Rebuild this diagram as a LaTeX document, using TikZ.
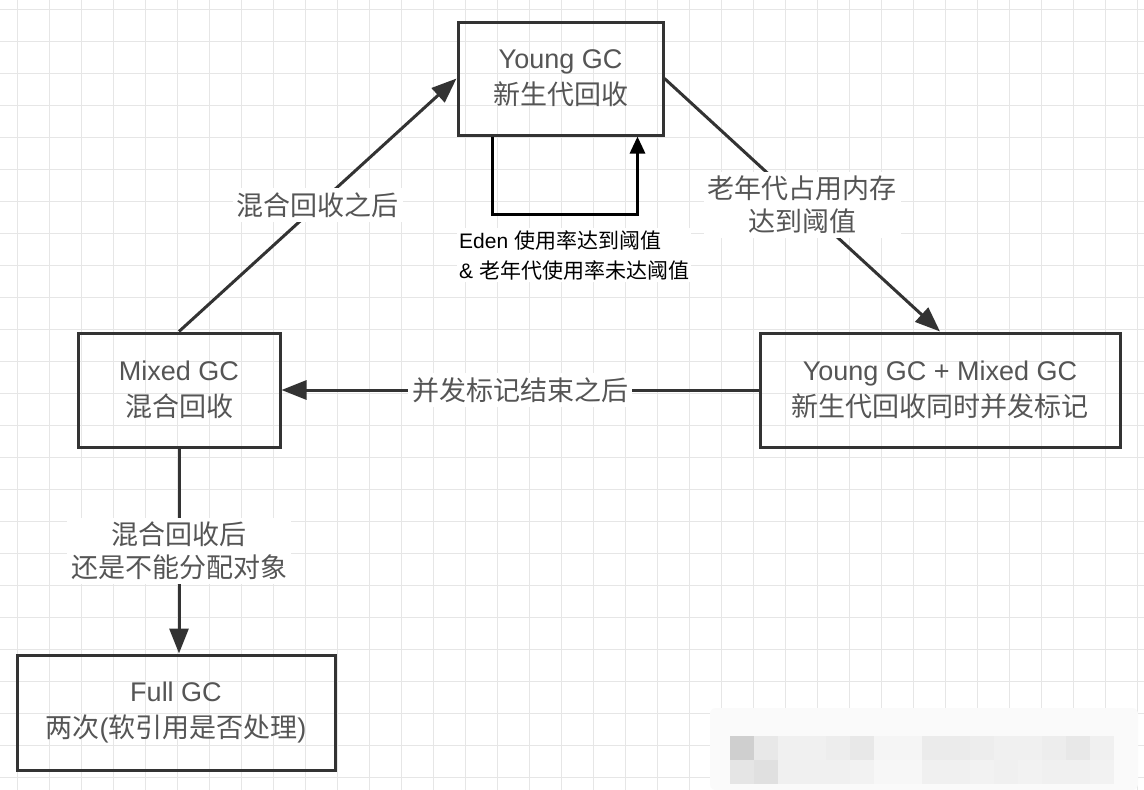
\documentclass[tikz,border=0pt]{standalone}
\usepackage{fontspec}
\setmainfont{Liberation Sans}
\newfontfamily\cjk{Noto Sans CJK SC}
\usetikzlibrary{positioning,arrows.meta,calc}

\definecolor{boxline}{HTML}{333333}
\definecolor{boxtext}{HTML}{555555}
\definecolor{gridline}{HTML}{E6E6E6}

\begin{document}
\begin{tikzpicture}[x=1pt,y=-1pt,
    gcbox/.style={draw=boxline, line width=3pt, align=center, text=boxtext,
        font=\fontsize{27}{36}\selectfont},
    lbl/.style={fill=white, text=boxtext, align=center, inner sep=4pt,
        font=\fontsize{27}{33}\selectfont\cjk},
    arr/.style={draw=boxline, line width=3pt, -{Triangle[length=25pt,width=19pt]}}]
    \useasboundingbox (0,0) rectangle (1144,790);

    % Grid paper
    \fill[white] (0,0) rectangle (1144,790);
    \foreach \x in {17,49,...,1144}
        \draw[gridline, line width=1pt] (\x,0) -- (\x,790);
    \foreach \y in {9,41,...,790}
        \draw[gridline, line width=1pt] (0,\y) -- (1144,\y);

    % Blurred mark in the corner
    \fill[black!2, rounded corners=6pt] (710,708) rectangle (1138,790);
    \foreach \g [count=\i from 0] in {19,9,6,6,7,9,4,4,8,8,7,6,6,7,9,6}
        \fill[black!\g] (730+24*\i,736) rectangle ++(24,24);
    \foreach \g [count=\i from 0] in {10,12,6,6,6,5,3,3,6,6,5,6,5,6,6,5}
        \fill[black!\g] (730+24*\i,760) rectangle ++(24,24);

    % Boxes
    \node[gcbox, minimum width=205pt, minimum height=113pt] (young) at (560.5,78.5)
        {Young GC\\{\cjk 新生代回收}};
    \node[gcbox, minimum width=202pt, minimum height=114pt] (mixed) at (179,390)
        {Mixed GC\\{\cjk 混合回收}};
    \node[gcbox, minimum width=360pt, minimum height=114pt] (ymix) at (940,390)
        {Young GC + Mixed GC\\{\cjk 新生代回收同时并发标记}};
    \node[gcbox, minimum width=318pt, minimum height=115pt] (full) at (176,712.5)
        {Full GC\\{\cjk 两次}({\cjk 软引用是否处理})};

    % Self loop on young GC
    \draw[draw=black, line width=3pt, -{Triangle[length=17pt,width=15pt]}]
        ([xshift=-68pt]young.south) -- ++(0,78) -| ([xshift=77pt]young.south);
    \node[anchor=west, align=left, fill=white, inner sep=2pt,
        font=\fontsize{21}{30}\selectfont] (loop) at (457,255)
        {Eden {\cjk 使用率达到阈值}\\\& {\cjk 老年代使用率未达阈值}};

    % Transitions
    \draw[arr] (mixed.north) -- node[lbl] {混合回收之后} (young.west);
    \draw[arr] (young.east) -- node[lbl] {老年代占用内存\\达到阈值} (ymix.north);
    \draw[arr] (ymix.west) -- node[lbl] {并发标记结束之后} (mixed.east);
    \draw[arr] (mixed.south) -- node[lbl] {混合回收后\\还是不能分配对象} (mixed.south |- full.north);
\end{tikzpicture}
\end{document}
